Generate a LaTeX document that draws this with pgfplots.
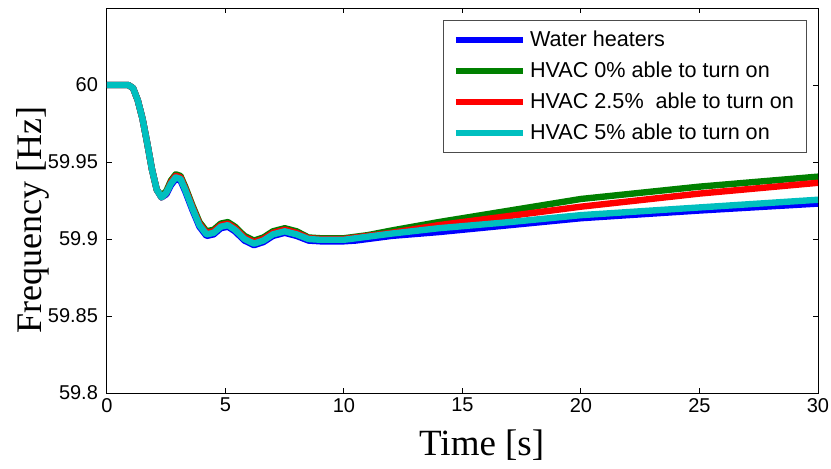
\documentclass[border=0pt]{standalone}
\usepackage{fontspec}
\setmainfont{Liberation Sans}
\newfontfamily\timesfont{Liberation Serif}
\usepackage{pgfplots}
\pgfplotsset{compat=1.18}
\definecolor{mblue}{rgb}{0,0,1}
\definecolor{mgreen}{rgb}{0,0.5,0}
\definecolor{mred}{rgb}{1,0,0}
\definecolor{mcyan}{rgb}{0,0.75,0.75}
\begin{document}
\begin{tikzpicture}
\useasboundingbox (-53.5pt,-37.5pt) rectangle (362pt,196.5pt);
\begin{axis}[
  scale only axis,
  width=355.5pt, height=192.5pt,
  xmin=0, xmax=30, ymin=59.8, ymax=60.05,
  xtick={0,5,...,30},
  ytick={59.8,59.85,59.9,59.95,60},
  tick align=inside,
  major tick length=2.5pt,
  axis line style={line width=0.5pt},
  tick style={line width=0.5pt, black},
  every tick label/.append style={font=\fontsize{10}{12}\selectfont},
  /pgf/number format/assume math mode=true,
  y tick label style={xshift=-1pt, /pgf/number format/fixed, /pgf/number format/precision=2, /pgf/number format/1000 sep={}},
  x tick label style={yshift=1pt},
  xlabel={Time [s]},
  ylabel={Frequency [Hz]},
  xlabel style={font=\timesfont\fontsize{18.5}{20}\selectfont, at={(axis description cs:0.527,-0.135)}, anchor=center},
  ylabel style={font=\timesfont\fontsize{18}{20}\selectfont, at={(axis description cs:-0.104,0.449)}, anchor=center},
  legend style={at={(axis description cs:0.985,0.969)}, anchor=north east,
    font=\fontsize{10.8}{12}\selectfont, draw=black!70, line width=0.5pt,
    row sep=0pt, inner xsep=4.5pt, inner ysep=2pt,
    nodes={text height=9pt, text depth=2.5pt}},
  legend cell align=left,
  legend image code/.code={\draw[#1, line width=3pt] (0cm,0cm) -- (1.18cm,0cm);},
  every axis plot/.append style={line width=3.2pt, line join=round},
]
\addplot[mblue] coordinates {
(0,60.0) (0.9,60.0) (1.1,59.998) (1.3,59.99) (1.5,59.978) (1.7,59.962) (1.9,59.945)
(2.1,59.932) (2.3,59.927) (2.5,59.929) (2.7,59.935) (2.9,59.939) (3.1,59.938)
(3.3,59.931) (3.6,59.919) (3.9,59.908) (4.2,59.902) (4.5,59.903) (4.8,59.907)
(5.1,59.908) (5.4,59.905) (5.8,59.899) (6.2,59.896) (6.6,59.898) (7.0,59.902)
(7.5,59.904) (8.0,59.902) (8.5,59.899) (9,59.8985) (10,59.8985) (10.5,59.899)
(12,59.902) (14,59.9045) (17,59.909) (20,59.9135) (25,59.9185) (30,59.923)};
\addlegendentry{Water heaters}
\addplot[mgreen] coordinates {
(0,60.0) (0.9,60.0) (1.1,59.998) (1.3,59.99) (1.5,59.978) (1.7,59.962) (1.9,59.945)
(2.1,59.932) (2.3,59.928) (2.5,59.931) (2.7,59.938) (2.9,59.942) (3.1,59.941)
(3.3,59.934) (3.6,59.922) (3.9,59.911) (4.2,59.905) (4.5,59.906) (4.8,59.910)
(5.1,59.911) (5.4,59.908) (5.8,59.902) (6.2,59.899) (6.6,59.901) (7.0,59.905)
(7.5,59.907) (8.0,59.905) (8.5,59.901) (9,59.9005) (10,59.9005) (11,59.9025)
(12,59.9055) (14,59.911) (17,59.9185) (20,59.926) (25,59.934) (30,59.9405)};
\addlegendentry{HVAC 0\% able to turn on}
\addplot[mred] coordinates {
(0,60.0) (0.9,60.0) (1.1,59.998) (1.3,59.99) (1.5,59.978) (1.7,59.962) (1.9,59.945)
(2.1,59.932) (2.3,59.927) (2.5,59.930) (2.7,59.937) (2.9,59.941) (3.1,59.940)
(3.3,59.933) (3.6,59.921) (3.9,59.910) (4.2,59.904) (4.5,59.905) (4.8,59.909)
(5.1,59.910) (5.4,59.907) (5.8,59.901) (6.2,59.898) (6.6,59.900) (7.0,59.904)
(7.5,59.906) (8.0,59.904) (8.5,59.9005) (9,59.900) (10,59.900) (11,59.902)
(12,59.904) (14,59.909) (17,59.915) (20,59.921) (25,59.9295) (30,59.9365)};
\addlegendentry{HVAC 2.5\%\ \ able to turn on}
\addplot[mcyan] coordinates {
(0,60.0) (0.9,60.0) (1.1,59.998) (1.3,59.99) (1.5,59.978) (1.7,59.962) (1.9,59.945)
(2.1,59.932) (2.3,59.927) (2.5,59.930) (2.7,59.936) (2.9,59.940) (3.1,59.939)
(3.3,59.932) (3.6,59.920) (3.9,59.909) (4.2,59.903) (4.5,59.904) (4.8,59.908)
(5.1,59.909) (5.4,59.906) (5.8,59.900) (6.2,59.897) (6.6,59.899) (7.0,59.903)
(7.5,59.905) (8.0,59.903) (8.5,59.900) (9,59.8995) (10,59.8995) (10.5,59.9005)
(12,59.9035) (14,59.907) (17,59.911) (20,59.9155) (25,59.9205) (30,59.9255)};
\addlegendentry{HVAC 5\% able to turn on}
\end{axis}
\end{tikzpicture}
\end{document}
